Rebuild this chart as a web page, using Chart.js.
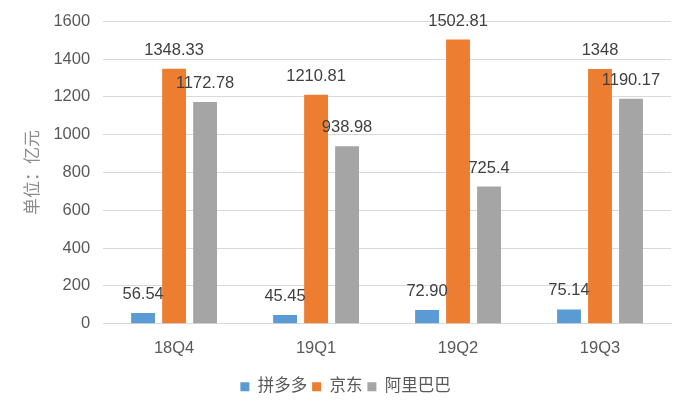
<!DOCTYPE html>
<html>
<head>
<meta charset="utf-8">
<script src="https://cdn.jsdelivr.net/npm/chart.js@4"></script>
<style>
html,body{margin:0;padding:0;background:#fff;}
#wrap{width:680px;height:404px;}
</style>
</head>
<body>
<div id="wrap"><canvas id="c" width="680" height="404"></canvas></div>
<script>
const categories = ['18Q4', '19Q1', '19Q2', '19Q3'];
const seriesNames = ['拼多多', '京东', '阿里巴巴'];
const pdd = [56.54, 45.45, 72.90, 75.14];
const jd = [1348.33, 1210.81, 1502.81, 1348];
const ali = [1172.78, 938.98, 725.4, 1190.17];
const pddLabels = ['56.54', '45.45', '72.90', '75.14'];
const jdLabels = ['1348.33', '1210.81', '1502.81', '1348'];
const aliLabels = ['1172.78', '938.98', '725.4', '1190.17'];
const yTicks = [0, 200, 400, 600, 800, 1000, 1200, 1400, 1600];
const yTitle = '单位：亿元';

const FONT = '"Liberation Sans", "Noto Sans CJK SC", sans-serif';
const colors = ['#5B9BD5', '#ED7D31', '#A5A5A5'];
const labelSets = [pddLabels, jdLabels, aliLabels];

const valueLabels = {
  id: 'valueLabels',
  afterDatasetsDraw(chart) {
    const ctx = chart.ctx;
    ctx.save();
    ctx.font = '16.5px ' + FONT;
    ctx.fillStyle = '#404040';
    ctx.textAlign = 'center';
    ctx.textBaseline = 'alphabetic';
    chart.data.datasets.forEach((ds, i) => {
      const meta = chart.getDatasetMeta(i);
      meta.data.forEach((bar, j) => {
        ctx.fillText(labelSets[i][j], bar.x, bar.y - 14);
      });
    });
    ctx.restore();
  }
};

new Chart(document.getElementById('c'), {
  type: 'bar',
  data: {
    labels: categories,
    datasets: [
      { label: seriesNames[0], data: pdd, backgroundColor: colors[0] },
      { label: seriesNames[1], data: jd, backgroundColor: colors[1] },
      { label: seriesNames[2], data: ali, backgroundColor: colors[2] }
    ]
  },
  options: {
    responsive: false,
    animation: false,
    devicePixelRatio: 1,
    datasets: { bar: { categoryPercentage: 0.655, barPercentage: 0.77 } },
    layout: { padding: { top: -2, right: 9, bottom: -1, left: 20 } },
    plugins: {
      tooltip: { enabled: false },
      legend: {
        position: 'bottom',
        labels: {
          boxWidth: 9, boxHeight: 9, padding: 5,
          color: '#595959',
          font: { family: FONT, size: 16.5 }
        }
      }
    },
    scales: {
      x: {
        grid: { display: false, drawTicks: false },
        border: { display: true, color: '#d9d9d9' },
        ticks: { color: '#595959', padding: 15, font: { family: FONT, size: 16.5 } }
      },
      y: {
        min: 0, max: 1600,
        afterBuildTicks(scale) { scale.ticks = yTicks.map(v => ({ value: v })); },
        grid: { color: '#d9d9d9', drawTicks: false },
        border: { display: false },
        ticks: { color: '#595959', padding: 13, font: { family: FONT, size: 16.5, lineHeight: 1 },
                 callback: (v) => String(v) },
        title: { display: true, text: yTitle, color: '#8c8c8c', padding: { top: 3, bottom: -3 }, font: { family: FONT, size: 17 } }
      }
    }
  },
  plugins: [valueLabels]
});
</script>
</body>
</html>
